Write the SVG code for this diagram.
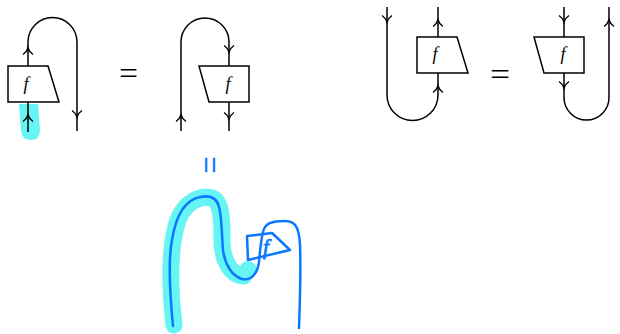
<svg xmlns="http://www.w3.org/2000/svg" xmlns:xlink="http://www.w3.org/1999/xlink" width="620" height="334" viewBox="0 0 620 334">
<style>
.w{fill:none;stroke:#000;stroke-width:1.5;stroke-linecap:butt}
.ah{fill:none;stroke:#000;stroke-width:1.4;stroke-linejoin:miter}
.box{fill:#fff;stroke:#000;stroke-width:1.5;stroke-linejoin:miter}
.lab{font-family:"Liberation Serif",serif;font-style:italic;font-size:18px;fill:#000;text-anchor:middle}
.eq{font-family:"Liberation Serif",serif;font-size:32px;fill:#000;text-anchor:middle}
.hl{fill:none;stroke:#66f4f4;stroke-width:17;stroke-linecap:round;stroke-linejoin:round}
.sk{fill:none;stroke:#0a78ff;stroke-width:2.5;stroke-linecap:round;stroke-linejoin:round}
.skt{font-family:"Liberation Serif",serif;font-style:italic;font-size:21px;fill:#0a78ff;stroke:#0a78ff;stroke-width:0.8;text-anchor:middle}
.skeq{font-family:"Liberation Sans",sans-serif;font-size:30px;fill:#0a78ff;text-anchor:middle}
</style>
<defs>
<path id="up" d="M-5,4.5 Q-1.2,2 0,-2.2 Q1.2,2 5,4.5"/>
</defs>
<path d="M19,104 L38,104 L40,130 Q40,140 31,140 Q22,140 21,131 Z" fill="#66f4f4"/>
<path class="hl" d="M174,325 C170,290 168,250 178,220 C185,202 200,195 212,198 C222,202 222,220 222,240 C222,262 232,276 244,276"/>
<circle cx="248" cy="270" r="9" fill="#66f4f4"/>
<g id="connectors">
<path class="w" d="M28,66 L28,42 A24.5,24.5 0 0 1 77,42 L77,131"/>
<path class="w" d="M28,102 L28,132"/>
<path class="w" d="M181,131 L181,42 A24,24 0 0 1 229,42 L229,66"/>
<path class="w" d="M229,102 L229,131"/>
<path class="w" d="M387,7 L387,95 A25.5,25.5 0 0 0 438,95 L438,73"/>
<path class="w" d="M438,37 L438,7"/>
<path class="w" d="M564,7 L564,37"/>
<path class="w" d="M564,73 L564,97.5 A22.5,22.5 0 0 0 609,97.5 L609,7"/>
<use href="#up" class="ah" transform="translate(28,50)"/>
<use href="#up" class="ah" transform="translate(77,115) rotate(180)"/>
<use href="#up" class="ah" transform="translate(28,117)"/>
<use href="#up" class="ah" transform="translate(181,117)"/>
<use href="#up" class="ah" transform="translate(229,50) rotate(180)"/>
<use href="#up" class="ah" transform="translate(229,117) rotate(180)"/>
<use href="#up" class="ah" transform="translate(387,20) rotate(180)"/>
<use href="#up" class="ah" transform="translate(438,22)"/>
<use href="#up" class="ah" transform="translate(438,88)"/>
<use href="#up" class="ah" transform="translate(564,20) rotate(180)"/>
<use href="#up" class="ah" transform="translate(564,86) rotate(180)"/>
<use href="#up" class="ah" transform="translate(609,22)"/>
<path class="sk" d="M173,326 C170,295 168,260 172,240 C176,215 185,200 200,197 C210,195 217,198 219,207 C222,218 222,240 223,250 C225,265 232,276 242,279 C252,281 258,272 259,262 C260,250 261,240 263,232 C265,223 272,221 285,221 C296,221 299,228 300,245 C301,270 300,300 299,328"/>
</g>
<g id="box1">
<polygon class="box" points="8,66 48,66 59,102 8,102"/>
<text class="lab" x="26" y="90">f</text>
</g>
<g id="box2">
<polygon class="box" points="199,66 249,66 249,102 209,102"/>
<text class="lab" x="228" y="90">f</text>
</g>
<g id="box3">
<polygon class="box" points="417,37 457,37 468,73 417,73"/>
<text class="lab" x="435" y="60">f</text>
</g>
<g id="box4">
<polygon class="box" points="534,37 584,37 584,73 544,73"/>
<text class="lab" x="563" y="60">f</text>
</g>
<g id="eq1"><text class="eq" x="128.5" y="84" textLength="19" lengthAdjust="spacingAndGlyphs">=</text></g>
<g id="eq2"><text class="eq" x="500" y="85" textLength="20" lengthAdjust="spacingAndGlyphs">=</text></g>
<g id="sketch-eq"><text class="skeq" transform="translate(210.5,165) rotate(90)" dominant-baseline="central">=</text></g>
<g id="sketch-box">
<path class="sk" d="M247,236 L272,233 L290,250 L248,260 Z"/>
<text class="skt" x="266" y="254">f</text>
</g>
</svg>
